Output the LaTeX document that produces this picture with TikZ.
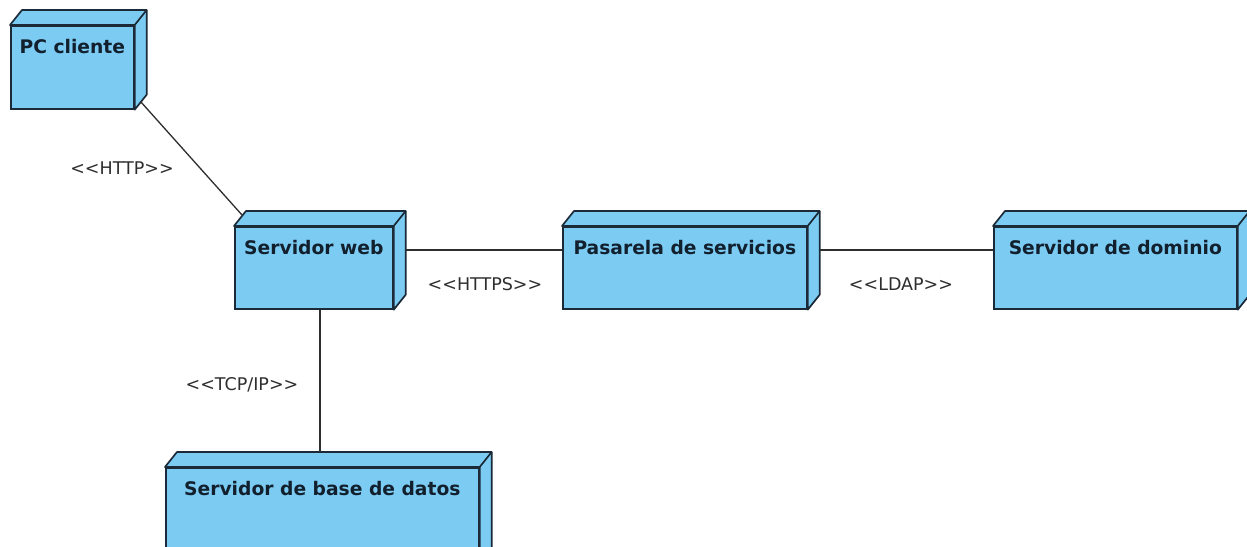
\documentclass[tikz,border=0pt]{standalone}
\usepackage{fontspec}
\setmainfont{DejaVu Sans}
\definecolor{nodeblue}{HTML}{7BCBF3}
\definecolor{edgec}{HTML}{1C2A38}
\definecolor{txtc}{HTML}{12202E}
\definecolor{linec}{HTML}{2E2E2E}
\newcommand\cubefaces[1]{%
  \draw[face] (#1.north west) -- ++(12,15) -- ([shift={(12,15)}]#1.north east)
     -- ([shift={(12,15)}]#1.south east) -- (#1.south east) -- (#1.north east) -- cycle;
  \draw[face] (#1.north east) -- ++(12,15);
}
\tikzset{
  front/.style={draw=edgec, fill=nodeblue, line width=1.7pt, inner sep=0pt, anchor=north west},
  face/.style={draw=edgec, fill=nodeblue, line width=1.7pt, line join=round},
  ntext/.style={text=txtc, font=\bfseries\fontsize{18.7}{22}\selectfont, anchor=base, inner sep=0pt},
  conn/.style={draw=linec, line width=1.3pt},
  stereo/.style={text=linec, font=\fontsize{17.5}{20}\selectfont, anchor=base, inner sep=0pt}
}
\begin{document}
\begin{tikzpicture}[x=1pt,y=1pt]
\useasboundingbox[fill=white] (0,0) rectangle (1247,546);
% front faces
\node[front, minimum width=123, minimum height=83] (pc) at (10,521) {};
\node[front, minimum width=158, minimum height=82] (web) at (234,320) {};
\node[front, minimum width=244, minimum height=82] (pas) at (562,320) {};
\node[front, minimum width=243, minimum height=82] (dom) at (993,320) {};
\node[front, minimum width=313, minimum height=110] (bd) at (165,79) {};
\cubefaces{pc}
\cubefaces{web}
\cubefaces{pas}
\cubefaces{dom}
\cubefaces{bd}
% texts
\node[ntext] (tpc) at ([yshift=-29]pc.north) {PC cliente};
\node[ntext] (tweb) at ([yshift=-29]web.north) {Servidor web};
\node[ntext] (tpas) at ([yshift=-29]pas.north) {Pasarela de servicios};
\node[ntext] (tdom) at ([yshift=-29]dom.north) {Servidor de dominio};
\node[ntext] (tbd) at ([yshift=-29]bd.north) {Servidor de base de datos};
% connector end points
\coordinate (a1) at ([shift={(6,8)}]pc.south east);
\coordinate (a2) at ([shift={(8,11)}]web.north west);
\coordinate (b1) at ([shift={(12,-24)}]web.north east);
\coordinate (b2) at ([yshift=-24]pas.north west);
\coordinate (c1) at ([shift={(12,-24)}]pas.north east);
\coordinate (c2) at ([yshift=-24]dom.north west);
\coordinate (d2) at ([shift={(155,15)}]bd.north west);
\coordinate (d1) at (d2 |- web.south);
\draw[conn] (a1) -- (a2);
\draw[conn] (b1) -- (b2);
\draw[conn] (c1) -- (c2);
\draw[conn] (d1) -- (d2);
% stereotypes
\node[stereo] (lhttp) at (122,371) {<{}<HTTP>{}>};
\node[stereo] (lhttps) at (485,255) {<{}<HTTPS>{}>};
\node[stereo] (lldap) at (901,255) {<{}<LDAP>{}>};
\node[stereo] (ltcp) at (242,155) {<{}<TCP/IP>{}>};
\end{tikzpicture}
\end{document}
